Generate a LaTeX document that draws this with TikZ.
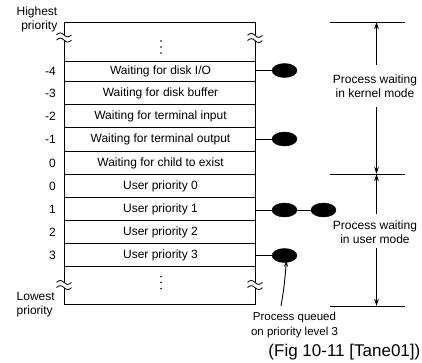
\documentclass[tikz,border=0pt]{standalone}
\usepackage{fontspec}
\setmainfont{Liberation Sans}
\usetikzlibrary{shapes.geometric,arrows.meta}
\begin{document}
\begin{tikzpicture}[x=1pt,y=-1pt,
  txt/.style={font=\fontsize{12}{14}\selectfont, inner sep=0pt},
  lvl/.style={txt, anchor=east},
  rowtxt/.style={txt},
  proc/.style={ellipse, fill=black, draw=black, minimum width=25pt, minimum height=14pt, inner sep=0pt},
  tick/.style={line width=1pt},
  span/.style={line width=1pt, -{Stealth[length=7pt,width=4.5pt]}},
  lbl/.style={txt, align=center},
  dotmark/.style={fill=black},
  brkmark/.pic={
    \fill[white] (-3,-2.6) rectangle (3,2.6);
    \draw[line width=0.8pt] (-7.5,-2.6) sin (-3.75,-4.6) cos (0,-2.6) sin (3.75,-0.6) cos (7.5,-2.6);
    \draw[line width=0.8pt] (-7.5,2.6) sin (-3.75,0.6) cos (0,2.6) sin (3.75,4.6) cos (7.5,2.6);
  }
]
\useasboundingbox (0,0) rectangle (422,362);

% priority table outline
\draw[line width=0.8pt] (64,22) rectangle (255,304);
\foreach \y in {61,81.5,104,127.5,151,174.5,197.5,220.5,243.5,266}
  \draw[line width=0.8pt] (64,\y) -- (255,\y);

% broken-range marks on the table edges
\pic at (64,37.5) {brkmark};
\pic at (255,38) {brkmark};
\pic at (64,285) {brkmark};
\pic at (255,285) {brkmark};
\foreach \y in {41,47,53,276.5,282.5,288.5}
  \fill[dotmark] (161,\y) circle (0.9);

% priority levels and row contents
\node[lvl] (p1) at (56,71)  {-4};
\node[lvl] (p2) at (56,93)  {-3};
\node[lvl] (p3) at (56,116) {-2};
\node[lvl] (p4) at (56,139) {-1};
\node[lvl] (p5) at (56,163) {0};
\node[lvl] (p6) at (56,186) {0};
\node[lvl] (p7) at (56,209) {1};
\node[lvl] (p8) at (56,232) {2};
\node[lvl] (p9) at (56,255) {3};

\node[rowtxt] (r1) at (160.5,71)  {Waiting for disk I/O};
\node[rowtxt] (r2) at (160.5,93)  {Waiting for disk buffer};
\node[rowtxt] (r3) at (160.5,116) {Waiting for terminal input};
\node[rowtxt] (r4) at (160.5,139) {Waiting for terminal output};
\node[rowtxt] (r5) at (160.5,163) {Waiting for child to exist};
\node[rowtxt] (r6) at (160.5,186) {User priority 0};
\node[rowtxt] (r7) at (160.5,209) {User priority 1};
\node[rowtxt] (r8) at (160.5,232) {User priority 2};
\node[rowtxt] (r9) at (160.5,255) {User priority 3};

\node[lbl, align=right, anchor=east] (hi) at (57.5,19) {Highest\\priority};
\node[lbl, align=left, anchor=west] (lo) at (16.5,305) {Lowest\\priority};

% queued processes
\coordinate (e1) at (255,70.5);
\coordinate (e4) at (255,139);
\coordinate (e7) at (255,210);
\coordinate (e9) at (255,255.5);
\node[proc] (q1) at (284.5,70.5) {};
\node[proc] (q4) at (284.5,139) {};
\node[proc] (q7) at (284.5,210) {};
\node[proc] (q7b) at (323.5,210) {};
\node[proc] (q9) at (284.5,255.5) {};
\draw[line width=0.6pt] (e1) -- (q1);
\draw[line width=0.6pt] (e4) -- (q4);
\draw[line width=0.6pt] (e7) -- (q7);
\draw[line width=0.6pt] (q7) -- (q7b);
\draw[line width=0.6pt] (e9) -- (q9);

\node[lbl, font=\fontsize{11.5}{15}\selectfont] (qlbl) at (294.5,325.5) {Process queued\\on priority level 3};
\coordinate (qtail) at (281,306);
\draw[line width=0.9pt, -{Stealth[length=6pt,width=4pt]}] (qtail) .. controls (284,288) .. ([xshift=2pt,yshift=2pt]q9.south);

% kernel / user mode spans
\coordinate (hT0) at (330,22);  \coordinate (hT1) at (405,22);
\coordinate (hM0) at (330,174); \coordinate (hM1) at (405,174);
\coordinate (hB0) at (330,306); \coordinate (hB1) at (405,306);
\draw[tick] (hT0) -- (hT1);
\draw[tick] (hM0) -- (hM1);
\draw[tick] (hB0) -- (hB1);
\coordinate (vT) at (376.5,22);
\coordinate (vM) at (376.5,174);
\coordinate (vB) at (376.5,306);
\coordinate (kA) at (376.5,65);
\coordinate (kB) at (376.5,107);
\coordinate (uA) at (376.5,214);
\coordinate (uB) at (376.5,248);

\node[lbl] (kern) at (375,86.5) {Process waiting\\in kernel mode};
\node[lbl] (user) at (375,232.5) {Process waiting\\in user mode};
\draw[span] (kA) -- (vT);
\draw[span] (kB) -- (vM);
\draw[span] (uA) -- (vM);
\draw[span] (uB) -- (vB);

\node[txt, font=\fontsize{17}{20}\selectfont, anchor=east] (fig) at (420.5,352) {(Fig 10-11 [Tane01])};
\end{tikzpicture}
\end{document}
